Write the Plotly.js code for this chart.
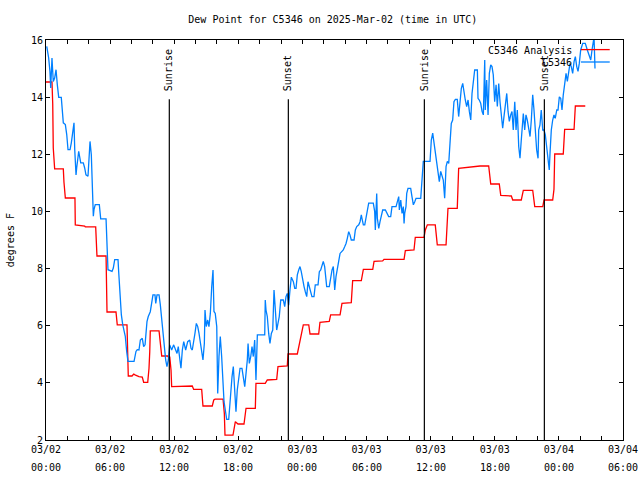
<!DOCTYPE html>
<html>
<head>
<meta charset="utf-8">
<script src="https://cdn.plot.ly/plotly-3.0.1.min.js"></script>
<style>html,body{margin:0;padding:0;background:#fff;}#chart{width:640px;height:480px;}</style>
</head>
<body>
<div id="chart"></div>
<script>
// Hours since 2025-03-02 00:00 UTC
var startDay = Date.UTC(2025, 2, 2);

var stationHours = [0.07,0.25,0.37,0.44,0.56,0.68,0.81,0.94,1.06,1.19,1.43,1.50,1.62,1.81,1.94,2.06,2.25,2.37,2.50,2.62,2.69,2.81,2.87,2.93,3.06,3.25,3.49,3.62,3.74,3.93,4.05,4.12,4.24,4.37,4.43,4.49,4.61,4.99,5.12,5.62,5.74,5.80,6.18,6.30,6.43,6.74,6.80,6.93,7.05,7.18,7.30,7.42,7.55,7.67,8.24,8.42,8.54,8.70,8.83,9.01,9.14,9.27,9.45,9.57,9.76,9.89,10.01,10.20,10.27,10.39,10.58,10.70,10.83,10.95,11.07,11.20,11.32,11.45,11.58,11.76,11.95,12.14,12.26,12.38,12.51,12.63,12.76,12.89,13.07,13.26,13.45,13.57,13.69,13.82,13.94,14.07,14.20,14.32,14.44,14.57,14.69,14.82,14.88,15.00,15.13,15.25,15.38,15.51,15.63,15.72,15.84,15.98,16.07,16.19,16.31,16.44,16.54,16.66,16.78,16.91,17.10,17.16,17.29,17.41,17.53,17.66,17.78,17.90,18.03,18.16,18.34,18.47,18.60,18.72,18.84,18.91,19.03,19.16,19.28,19.40,19.53,19.65,19.78,20.47,20.52,20.59,20.71,20.84,20.96,21.09,21.22,21.34,21.46,21.59,21.71,21.83,21.97,22.21,22.34,22.46,22.58,22.71,22.84,22.96,23.15,23.28,23.40,23.52,23.65,23.77,23.89,24.02,24.15,24.27,24.40,24.52,24.64,24.77,24.89,25.08,25.20,25.46,25.58,25.71,25.83,25.95,26.08,26.21,26.27,26.51,26.64,26.77,26.89,26.95,27.02,27.14,27.26,27.39,27.52,27.70,27.82,27.96,28.08,28.20,28.33,28.45,28.57,28.83,28.95,29.08,29.27,29.39,29.51,29.57,29.70,29.83,29.95,30.07,30.20,30.63,30.76,30.82,30.95,31.01,31.14,31.26,31.38,31.51,31.76,31.89,32.07,32.26,32.38,32.76,32.88,33.01,33.07,33.20,33.32,33.44,33.51,33.57,33.69,33.76,33.88,34.13,34.25,34.38,34.51,34.63,35.07,35.19,35.31,35.94,36.06,36.19,36.25,36.38,36.50,36.62,36.69,36.81,36.94,37.06,37.18,37.31,37.44,37.56,37.69,37.81,37.93,38.06,38.18,38.31,38.49,38.62,38.75,38.87,39.00,39.12,39.24,39.37,39.50,39.62,39.75,39.87,39.99,40.12,40.37,40.43,40.55,40.68,40.81,40.93,41.06,41.11,41.24,41.37,41.49,41.62,41.74,41.86,41.99,42.12,42.24,42.37,42.49,42.61,42.74,42.86,42.99,43.12,43.24,43.36,43.49,43.61,43.73,43.87,43.99,44.11,44.24,44.36,44.48,44.67,44.80,44.92,45.04,45.18,45.30,45.42,45.55,45.67,45.79,45.92,46.05,46.11,46.23,46.35,46.49,46.61,46.73,46.86,46.98,47.10,47.17,47.29,47.42,47.54,47.66,47.80,47.92,48.04,48.17,48.29,48.41,48.54,48.67,48.79,48.92,49.04,49.16,49.29,49.42,49.54,49.67,49.79,49.91,50.04,50.23,50.47,50.66,50.85,50.98,51.10,51.29,51.38];

var stationDewF = [15.78,15.37,14.9,14.32,15.37,14.55,14.67,14.96,14.43,13.99,13.99,13.73,13.10,13.04,12.69,12.16,12.16,12.40,12.69,13.10,12.16,11.28,11.52,11.75,12.10,11.70,11.70,11.52,11.28,11.23,12.04,12.45,11.99,10.29,9.83,10.06,10.24,10.24,9.74,9.74,8.84,7.96,7.90,8.02,8.31,8.31,7.90,6.97,6.39,6.04,5.81,5.63,5.10,4.75,4.75,5.10,5.16,5.15,5.50,5.56,5.27,5.33,6.14,6.32,6.49,6.90,7.08,7.08,6.78,7.08,7.08,6.73,6.26,5.68,5.15,4.80,4.57,4.80,5.33,5.15,5.33,5.15,5.03,5.27,4.92,4.51,5.15,5.44,5.15,5.44,5.50,5.21,5.15,5.56,5.73,6.08,5.97,5.73,5.38,5.03,4.80,5.38,6.55,5.97,6.20,5.97,6.43,7.37,7.95,6.50,6.43,5.97,3.63,4.92,5.62,4.92,3.87,3.34,3.05,2.72,2.72,3.05,3.87,4.22,4.57,3.52,2.99,3.75,4.22,4.51,4.51,4.22,3.87,4.33,4.80,5.38,4.68,4.92,5.27,4.92,5.50,4.10,5.68,5.68,6.90,6.55,6.32,5.73,5.38,5.73,5.85,7.25,6.32,5.85,6.08,6.32,6.90,6.90,6.67,7.02,7.13,6.72,7.28,7.70,7.54,7.31,7.31,7.78,7.95,8.07,7.89,7.54,7.37,7.19,7.02,7.54,7.37,7.19,7.02,7.02,7.43,7.43,7.89,7.95,8.13,8.25,8.07,7.60,7.37,7.37,7.72,7.95,8.07,7.48,7.25,7.72,8.07,8.25,8.53,8.59,8.65,8.77,8.88,9.06,9.29,9.18,9.00,9.00,9.35,9.47,9.53,9.64,9.88,9.76,9.53,9.53,9.82,10.11,10.29,10.29,10.00,9.35,10.63,9.76,9.41,9.64,9.82,10.05,10.05,9.96,9.82,9.82,10.17,10.17,10.34,10.52,10.05,10.40,9.93,10.17,9.58,9.93,10.17,10.63,10.81,10.81,10.52,10.23,10.34,10.46,10.46,11.12,11.75,11.75,12.50,12.74,12.56,12.15,11.92,11.57,11.33,11.04,11.40,11.22,11.10,10.46,11.57,11.75,11.68,12.39,13.08,13.20,13.84,13.92,13.92,13.32,13.73,14.31,14.48,14.08,13.90,13.67,13.90,13.50,13.20,14.13,14.48,14.95,14.95,13.96,13.90,13.79,13.50,13.38,15.30,13.55,14.60,13.38,14.83,15.13,15.07,14.78,13.84,14.43,13.67,14.48,13.84,13.32,12.91,13.32,13.67,14.13,13.50,13.15,13.38,13.50,12.85,13.84,12.85,13.55,12.27,11.86,12.50,13.43,12.85,13.38,13.20,12.85,12.62,13.20,14.08,13.55,12.62,12.15,11.86,12.85,13.03,13.55,12.85,12.85,12.68,12.27,11.92,11.45,12.04,12.85,13.20,13.38,13.26,13.55,13.55,14.01,13.96,13.55,14.08,14.55,14.83,14.55,14.95,15.18,15.07,14.83,15.24,15.42,15.07,14.90,15.18,15.65,15.88,15.88,15.65,15.42,15.30,15.65,16.10,15.00];

var analysisHours = [0,0.56,0.63,0.68,0.81,1.62,1.68,1.81,2.71,2.74,3.62,3.68,4.65,4.71,4.77,5.62,5.64,5.71,6.55,6.67,7.58,7.61,7.70,8.05,8.21,8.33,8.70,9.01,9.14,9.52,9.64,9.71,9.76,10.58,10.70,10.83,11.39,11.51,11.58,11.70,11.76,12.70,12.82,13.69,13.82,14.57,14.69,15.56,15.70,15.82,16.57,16.69,16.75,17.50,17.72,17.97,18.53,18.72,19.59,19.65,20.52,20.71,21.59,21.71,22.58,22.65,23.52,23.65,23.84,24.08,24.59,24.71,25.52,25.64,26.51,26.64,27.52,27.70,28.57,28.70,29.51,29.70,30.58,30.70,31.51,31.63,33.51,33.63,34.44,34.56,35.38,35.50,35.69,36.43,36.62,37.44,37.62,38.49,38.62,40.43,40.62,41.43,41.62,42.42,42.56,43.55,43.68,44.48,44.67,45.55,45.74,46.49,46.61,47.42,47.54,47.61,48.41,48.54,49.42,49.54,50.47];

var analysisDewF = [14.53,14.53,13.76,12.22,11.49,11.49,11.03,10.47,10.47,9.53,9.49,9.46,9.46,9.07,8.44,8.44,7.53,6.48,6.48,6.03,6.03,5.26,4.24,4.24,4.31,4.28,4.22,4.20,4.02,4.02,4.51,5.09,5.82,5.82,5.38,4.94,4.94,4.86,4.92,4.45,3.87,3.87,3.89,3.89,3.77,3.77,3.19,3.19,3.40,3.43,3.43,2.93,2.17,2.17,2.64,2.56,2.56,3.11,3.11,3.98,3.98,4.10,4.12,4.57,4.59,5.01,5.01,5.27,5.68,6.03,6.03,5.71,5.71,6.12,6.15,6.38,6.38,6.78,6.81,7.58,7.58,7.97,7.97,8.25,8.27,8.32,8.32,8.63,8.65,9.09,9.09,9.35,9.53,9.53,8.83,8.83,10.11,10.11,11.51,11.57,11.59,11.59,10.96,10.96,10.56,10.54,10.40,10.40,10.74,10.74,10.17,10.17,10.40,10.40,10.77,12.01,12.01,12.87,12.87,13.69,13.69];

var sunEvents = ['Sunrise', 'Sunset', 'Sunrise', 'Sunset'];
var sunHours = [11.54, 22.68, 35.41, 46.64];

var tickHours = [0, 6, 12, 18, 24, 30, 36, 42, 48, 54];
var tickDates = ['03/02', '03/02', '03/02', '03/02', '03/03', '03/03', '03/03', '03/03', '03/04', '03/04'];
var tickTimes = ['00:00', '06:00', '12:00', '18:00', '00:00', '06:00', '12:00', '18:00', '00:00', '06:00'];
var yTicks = [2, 4, 6, 8, 10, 12, 14, 16];

function toDate(h) {
  return new Date(startDay + h * 3600000).toISOString().slice(0, 19).replace('T', ' ');
}

var FONT = {family: 'DejaVu Sans Mono, Liberation Mono, monospace', size: 10, color: '#000'};

var traces = [
  {x: analysisHours.map(toDate), y: analysisDewF, type: 'scatter', mode: 'lines',
   name: 'C5346 Analysis', line: {color: '#ff0000', width: 1.3}},
  {x: stationHours.map(toDate), y: stationDewF, type: 'scatter', mode: 'lines',
   name: 'C5346', line: {color: '#0080ff', width: 1.3}}
];

var shapes = [];
var annotations = [];
for (var i = 0; i < sunEvents.length; i++) {
  shapes.push({type: 'line', xref: 'x', yref: 'y', x0: toDate(sunHours[i]), x1: toDate(sunHours[i]),
               y0: 2, y1: 13.93, line: {color: '#000', width: 1.2}});
  annotations.push({xref: 'x', yref: 'y', x: toDate(sunHours[i]), y: 14.15, text: sunEvents[i],
                    textangle: -90, showarrow: false, xanchor: 'center', yanchor: 'bottom', font: FONT});
}
// second row of x tick labels (time of day)
for (var k = 0; k < tickHours.length; k++) {
  annotations.push({xref: 'x', yref: 'paper', x: toDate(tickHours[k]), y: 0, yshift: -27,
                    text: tickTimes[k], showarrow: false, xanchor: 'center', yanchor: 'middle',
                    font: FONT});
}
// legend (gnuplot style: text left, sample right)
annotations.push({xref: 'paper', yref: 'paper', x: 0.915, y: 0.975, text: 'C5346 Analysis',
                  showarrow: false, xanchor: 'right', yanchor: 'middle', font: FONT});
annotations.push({xref: 'paper', yref: 'paper', x: 0.915, y: 0.945, text: 'C5346',
                  showarrow: false, xanchor: 'right', yanchor: 'middle', font: FONT});
shapes.push({type: 'line', xref: 'paper', yref: 'paper', x0: 0.927, x1: 0.977, y0: 0.976, y1: 0.976,
             line: {color: '#ff0000', width: 1.3}});
shapes.push({type: 'line', xref: 'paper', yref: 'paper', x0: 0.927, x1: 0.977, y0: 0.945, y1: 0.945,
             line: {color: '#0080ff', width: 1.3}});
// y axis title
annotations.push({xref: 'paper', yref: 'paper', x: -0.062, y: 0.5, text: 'degrees F', textangle: -90,
                  showarrow: false, xanchor: 'center', yanchor: 'middle', font: FONT});

var layout = {
  width: 640, height: 480,
  margin: {l: 46, r: 17, t: 40, b: 40, pad: 0},
  paper_bgcolor: '#fff', plot_bgcolor: '#fff',
  showlegend: false,
  font: FONT,
  title: {text: 'Dew Point for C5346 on 2025-Mar-02 (time in UTC)', font: FONT,
          x: 0.52, xanchor: 'center', y: 0.96, yanchor: 'middle', yref: 'container'},
  xaxis: {
    type: 'date', range: [toDate(0), toDate(54)],
    tickmode: 'array', tickvals: tickHours.map(toDate), ticktext: tickDates,
    ticks: 'inside', ticklen: 4, tickwidth: 1, tickcolor: '#000',
    showline: true, linecolor: '#000', linewidth: 1, mirror: 'ticks',
    showgrid: false, zeroline: false, tickfont: FONT,
    minor: {dtick: 7200000, tick0: toDate(0), ticks: 'inside', ticklen: 4, tickcolor: '#000', showgrid: false}
  },
  yaxis: {
    range: [2, 16], tickmode: 'array', tickvals: yTicks,
    ticks: 'inside', ticklen: 4, tickwidth: 1, tickcolor: '#000',
    showline: true, linecolor: '#000', linewidth: 1, mirror: 'ticks',
    showgrid: false, zeroline: false, tickfont: FONT
  },
  shapes: shapes,
  annotations: annotations
};

Plotly.newPlot('chart', traces, layout, {displayModeBar: false, staticPlot: true});
</script>
</body>
</html>
